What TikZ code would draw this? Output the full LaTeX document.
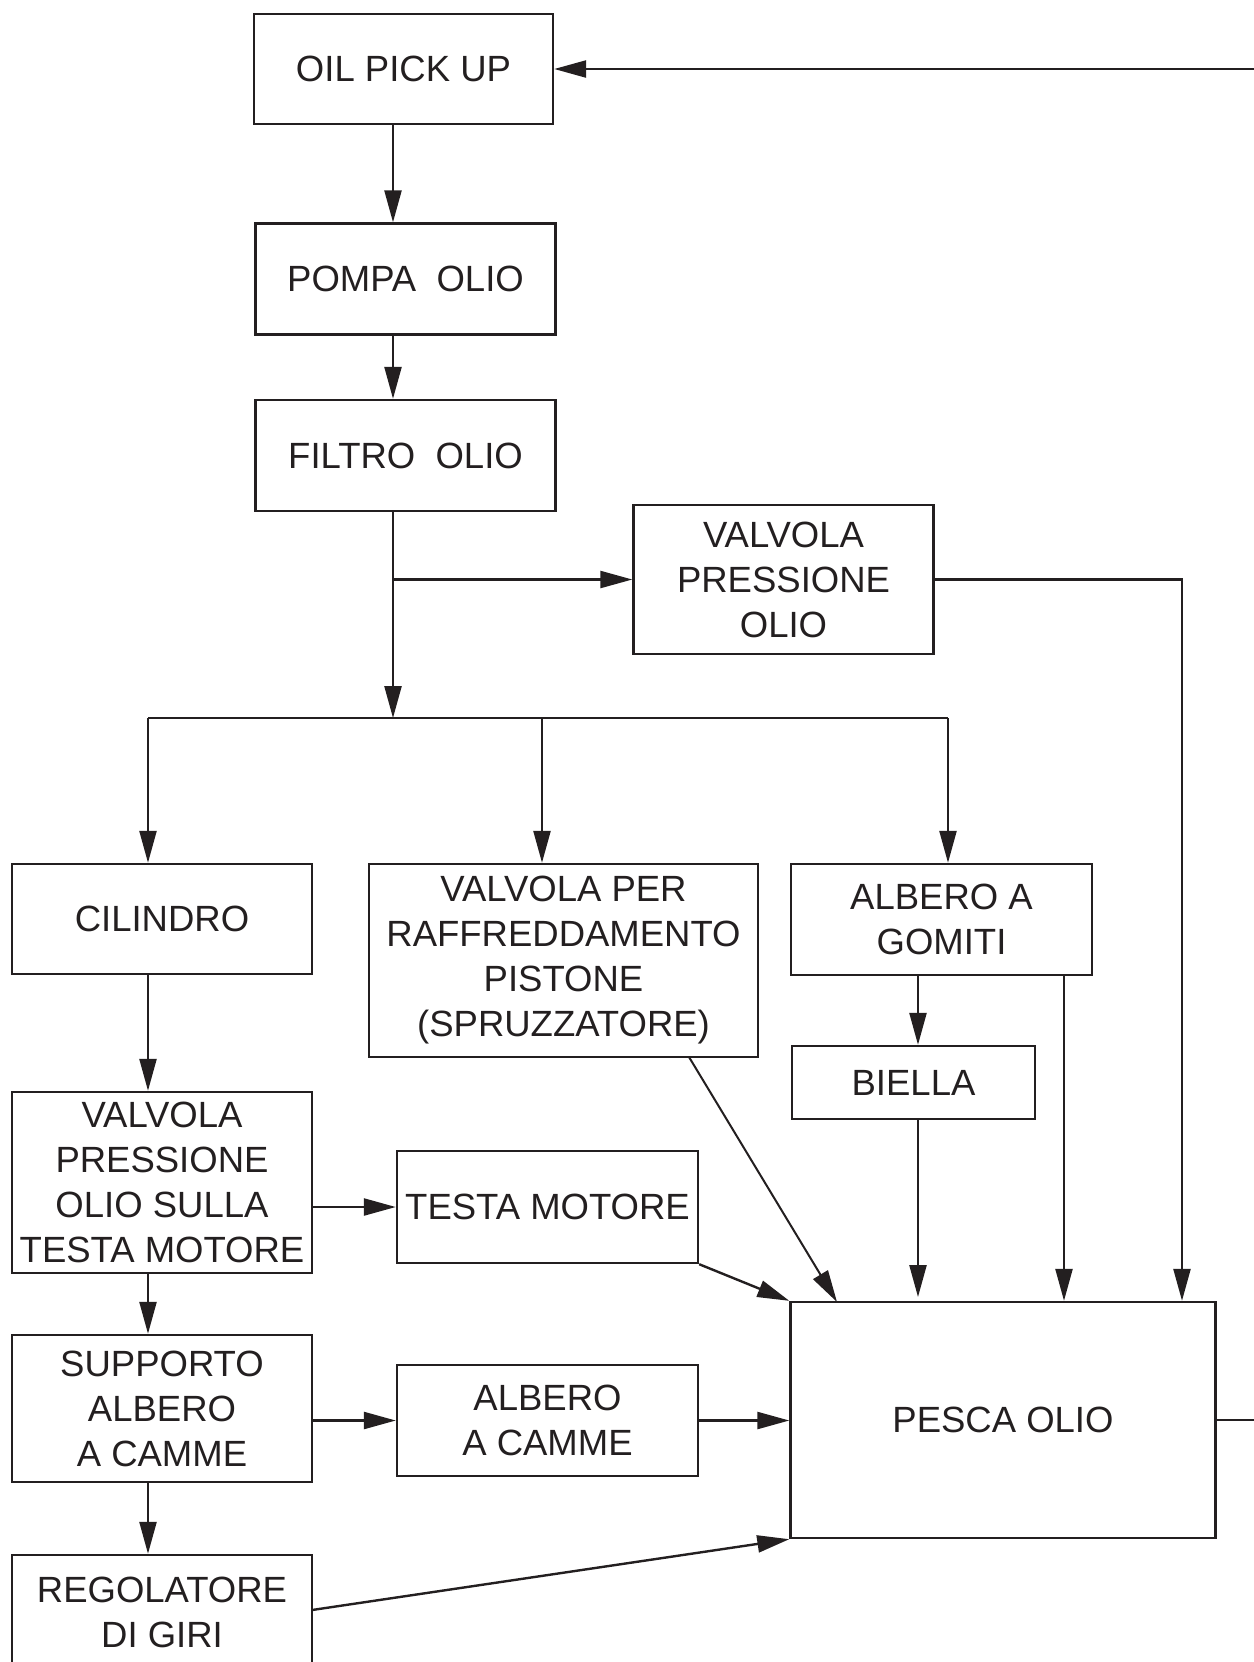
\documentclass[tikz,border=0pt]{standalone}
\usepackage{fontspec}
\setmainfont{Liberation Sans}
\usetikzlibrary{arrows.meta}
\definecolor{ink}{RGB}{35,31,32}
\begin{document}
\begin{tikzpicture}[x=0.5pt,y=-0.5pt,
  box/.style={draw=ink,line width=1.2pt,inner sep=0pt,align=center,text=ink,
    font=\fontsize{18.25pt}{22.5pt}\selectfont},
  link/.style={draw=ink,line width=1.2pt},
  arr/.style={link,-{Triangle[length=16pt,width=8.5pt]}}]
\useasboundingbox (0,0) rectangle (1254,1662);
% nodes
\node[box,minimum width=149.5pt,minimum height=55pt] (pick) at (403.5,69) {OIL PICK UP};
\node[box,minimum width=150pt,minimum height=55.5pt] (pompa) at (405.5,279) {POMPA\ \ OLIO};
\node[box,minimum width=150pt,minimum height=55.5pt] (filtro) at (405.5,455.5) {FILTRO\ \ OLIO};
\node[box,minimum width=150pt,minimum height=74.5pt] (vpo) at (783.5,579.5) {VALVOLA\\PRESSIONE\\OLIO};
\node[box,minimum width=150pt,minimum height=55pt] (cil) at (162,919) {CILINDRO};
\node[box,minimum width=194.5pt,minimum height=96.5pt] (vpr) at (563.5,960.5) {VALVOLA PER\\RAFFREDDAMENTO\\PISTONE\\(SPRUZZATORE)};
\node[box,minimum width=150.5pt,minimum height=55.5pt] (gom) at (941.5,919.5) {ALBERO A\\GOMITI};
\node[box,minimum width=121.5pt,minimum height=36.5pt] (biella) at (913.5,1082.5) {BIELLA};
\node[box,minimum width=150pt,minimum height=90.5pt] (vpt) at (162,1182.5) {VALVOLA\\PRESSIONE\\OLIO SULLA\\TESTA MOTORE};
\node[box,minimum width=150.5pt,minimum height=56pt] (testa) at (547.5,1207) {TESTA MOTORE};
\node[box,minimum width=150pt,minimum height=73.5pt] (supp) at (162,1408.5) {SUPPORTO\\ALBERO\\A CAMME};
\node[box,minimum width=150.5pt,minimum height=55.5pt] (camme) at (547.5,1420.5) {ALBERO\\A CAMME};
\node[box,minimum width=150pt,minimum height=57pt] (reg) at (162,1612) {REGOLATORE\\DI GIRI};
\node[box,minimum width=212.5pt,minimum height=118pt] (pesca) at (1003,1420) {PESCA OLIO};
% helper coordinates
\coordinate (mx) at (393,0);
\coordinate (j1) at (393,579.5);
\coordinate (j2) at (393,718);
\coordinate (hl) at (148,718);
\coordinate (hm) at (542,718);
\coordinate (hr) at (948,718);
\coordinate (vr) at (1182,579.5);
\coordinate (outX) at (1275,0);
\coordinate (lx) at (148,0);
\coordinate (bx) at (918,0);
\coordinate (gx) at (1064,0);
\coordinate (vprout) at (689,1057);
\coordinate (vprin) at (837,1302);
\coordinate (regout) at (312,1610);
\coordinate (bin) at (918,1297);
% connectors
\draw[arr] (pesca.east) -- (outX |- pesca.east) -- (outX |- pick.east) -- (pick.east);
\draw[arr] (pick.south -| mx) -- (pompa.north -| mx);
\draw[arr] (pompa.south -| mx) -- (filtro.north -| mx);
\draw[arr] (filtro.south -| mx) -- (j2);
\draw[arr] (j1) -- (vpo.west);
\draw[link] (hl) -- (hr);
\draw[arr] (hl) -- (cil.north -| hl);
\draw[arr] (hm) -- (vpr.north -| hm);
\draw[arr] (hr) -- (gom.north -| hr);
\draw[arr] (vpo.east) -- (vr) -- (pesca.north -| vr);
\draw[arr] (gom.south -| bx) -- (biella.north -| bx);
\draw[arr] (biella.south -| bx) -- (bin);
\draw[arr] (gom.south -| gx) -- (pesca.north -| gx);
\draw[arr] (cil.south -| lx) -- (vpt.north -| lx);
\draw[arr] (vpt.south -| lx) -- (supp.north -| lx);
\draw[arr] (supp.south -| lx) -- (reg.north -| lx);
\draw[arr] (vpt.east |- testa.west) -- (testa.west);
\draw[arr] (supp.east |- camme.west) -- (camme.west);
\draw[arr] (camme.east) -- (pesca.west |- camme.east);
\draw[arr] (testa.south east) -- (pesca.north west);
\draw[arr,line width=1pt] (vprout) -- (vprin);
\draw[arr] (regout) -- (pesca.south west);
\end{tikzpicture}
\end{document}
